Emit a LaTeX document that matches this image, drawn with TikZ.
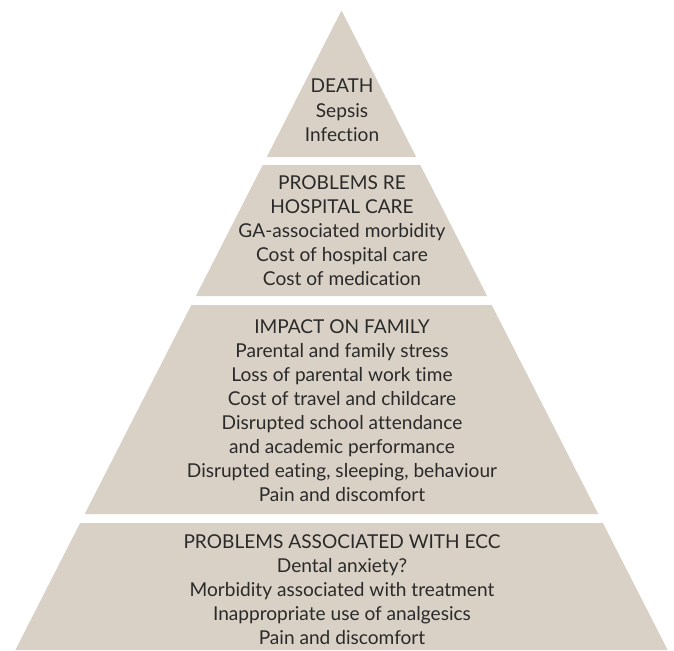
\documentclass[tikz,border=0pt]{standalone}
\usepackage{fontspec}
\setmainfont{Lato}[Ligatures={NoCommon,NoDiscretionary}]
\usepackage{xcolor}
\definecolor{bandfill}{HTML}{D9D1C5}
\definecolor{bandtext}{HTML}{2A2A2A}
\usetikzlibrary{calc}

\begin{document}
\begin{tikzpicture}[x=1pt,y=-1pt,
                    band/.style={fill=bandfill,draw=none},
                    band text/.style={align=center,anchor=base,inner sep=0pt,text=bandtext,
                      font=\fontsize{19.1}{24}\selectfont}]
 \useasboundingbox (0,0) rectangle (674,650);

%The four layers of the pyramid
 \def\apexx{341.5}
 \def\apexy{10.5}
 \def\slope{0.51}
 \foreach \ytop/\ybot in {10.5/157,165/296,305/514,523/650}
    {\pgfmathsetmacro{\wtop}{\slope*(\ytop-\apexy)}
     \pgfmathsetmacro{\wbot}{\slope*(\ybot-\apexy)}
     \fill[band] (\apexx-\wtop,\ytop) -- (\apexx+\wtop,\ytop)
        -- (\apexx+\wbot,\ybot) -- (\apexx-\wbot,\ybot) -- cycle;}

%Labels in each layer
 \node[band text] (death) at (342,141) {DEATH\\Sepsis\\Infection};
 \node[band text] (hospital) at (342,285)
   {PROBLEMS RE\\HOSPITAL CARE\\GA-associated morbidity\\Cost of hospital care\\Cost of medication};
 \node[band text] (family) at (342,501.5)
   {IMPACT ON FAMILY\\Parental and family stress\\Loss of parental work time\\Cost of travel and childcare\\Disrupted school attendance\\and academic performance\\Disrupted eating, sleeping, behaviour\\Pain and discomfort};
 \node[band text] (ecc) at (342,644)
   {PROBLEMS ASSOCIATED WITH ECC\\Dental anxiety?\\Morbidity associated with treatment\\Inappropriate use of analgesics\\Pain and discomfort};

\end{tikzpicture}
\end{document}
